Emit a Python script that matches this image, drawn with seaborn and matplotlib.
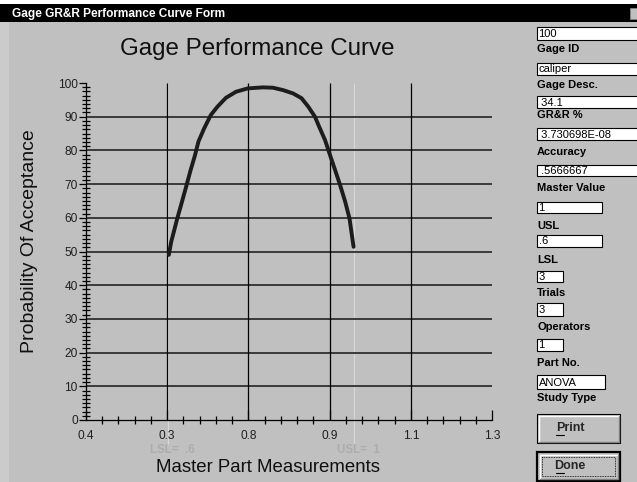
import numpy as np
import matplotlib
matplotlib.use('Agg')
import matplotlib.pyplot as plt
from matplotlib.patches import Rectangle
from matplotlib.ticker import FixedLocator, MultipleLocator
import seaborn as sns

# curve
master_part = [0.5836, 0.5889, 0.5948, 0.6023, 0.6097, 0.6209, 0.6320, 0.6417,
               0.6492, 0.6618, 0.6767, 0.6916, 0.7102, 0.7325, 0.7586, 0.7921,
               0.8144, 0.8367, 0.8591, 0.8777, 0.8926, 0.9075, 0.9186, 0.9298,
               0.9410, 0.9521, 0.9633, 0.9745, 0.9841, 0.9931]
prob_accept = [49.0, 52.9, 55.9, 59.8, 63.3, 68.7, 74.2, 78.6,
               82.6, 86.5, 90.5, 93.0, 95.6, 97.4, 98.4, 98.7,
               98.6, 97.9, 96.9, 95.5, 93.0, 90.0, 86.5, 83.1,
               78.6, 74.2, 69.7, 64.8, 59.8, 51.4]

x_ticks = [0.4, 0.58, 0.76, 0.94, 1.12, 1.3]
x_tick_labels = ['0.4', '0.3', '0.8', '0.9', '1.1', '1.3']
y_ticks = [0, 10, 20, 30, 40, 50, 60, 70, 80, 90, 100]

spec_x = [0.582, 0.994]
spec_labels = ['LSL=  .6', 'USL=  1']

field_values = ['100', 'caliper', ' 34.1', ' 3.730698E-08', ' .5666667',
                '1', '.6', '3', '3', '1', 'ANOVA']
field_labels = ['Gage ID', 'Gage Desc.', 'GR&R %', 'Accuracy', 'Master Value',
                'USL', 'LSL', 'Trials', 'Operators', 'Part No.', 'Study Type']

# form layout (pixels)
box_top = [27, 63, 96, 128, 165, 202, 235, 271, 303, 339, 375]
box_h = [13, 12, 12, 12, 11, 11, 12, 11, 13, 12, 14]
box_w = [105, 105, 105, 105, 105, 65, 65, 26, 26, 26, 68]
label_y = [49, 85, 115, 152, 188, 226, 260, 293, 327, 363, 398]

sns.set_style('white')
plt.rcParams['font.family'] = ['Liberation Sans', 'DejaVu Sans']

W, H = 637, 482
BG = '#c0c0c0'
fig = plt.figure(figsize=(W / 100, H / 100), dpi=100, facecolor=BG)

# whole-window overlay in pixel coordinates
ui = fig.add_axes([0, 0, 1, 1])
ui.set_xlim(0, W)
ui.set_ylim(H, 0)
ui.axis('off')
ui.add_patch(Rectangle((0, 0), 9, H, color='#cbcbcb', lw=0))
ui.add_patch(Rectangle((0, 0), W, 4, color='white', lw=0))
ui.add_patch(Rectangle((0, 4), W, 18, color='black', lw=0))
ui.text(12, 13.5, 'Gage GR&R Performance Curve Form', color='white',
        fontsize=8.6, fontweight='bold', va='center')
ui.add_patch(Rectangle((630, 8), 9, 11, facecolor=BG, edgecolor='#808080', lw=0.7))

for val, lab, top, h, w, ly in zip(field_values, field_labels, box_top, box_h, box_w, label_y):
    ui.add_patch(Rectangle((537, top), w, h, facecolor='white', edgecolor='black', lw=0.8))
    ui.text(538.5, top + h / 2 + 0.5, val, fontsize=8, va='center', color='black')
    ui.text(537, ly, lab, fontsize=8, fontweight='bold', va='center', color='black')


def button(top, text, focused):
    x0, x1, y1 = 537, 620, top + 29
    ui.add_patch(Rectangle((x0, top), x1 - x0, y1 - top, facecolor=BG,
                           edgecolor='black', lw=1.6 if focused else 0.8))
    k = 2.5 if focused else 1.5
    ui.plot([x0 + k, x1 - k], [top + k, top + k], color='white', lw=1)
    ui.plot([x0 + k, x0 + k], [top + k, y1 - k], color='white', lw=1)
    ui.plot([x0 + k, x1 - k], [y1 - k, y1 - k], color='#808080', lw=1)
    ui.plot([x1 - k, x1 - k], [top + k, y1 - k], color='#808080', lw=1)
    if focused:
        ui.add_patch(Rectangle((x0 + 5, top + 5), x1 - x0 - 10, y1 - top - 10,
                               fill=False, edgecolor='black', lw=0.6, ls=(0, (1, 1))))
    ui.text(570, top + 14, text, fontsize=9, fontweight='bold', ha='center', va='center')
    ui.plot([556, 563.5], [top + 20.5, top + 20.5], color='black', lw=0.8)


button(414, 'Print', False)
button(452, 'Done', True)

# chart axes
ax = fig.add_axes([86 / W, 1 - 420 / H, (492 - 86) / W, (420 - 83) / H])
ax.patch.set_alpha(0)
ax.set_xlim(0.4, 1.3)
ax.set_ylim(0, 100)

ax.hlines(y_ticks[1:-1], x_ticks[0], x_ticks[-1], color='#3a3a3a', lw=1.4, zorder=1)
ax.vlines(x_ticks[1:-1], 0, 100, color='black', lw=0.9, zorder=1)
ax.vlines(spec_x, -7, 100, color='#d8d8d8', lw=0.8, clip_on=False, zorder=0.5)
for sx, sl in zip(spec_x, spec_labels):
    ax.text(sx + 0.01, -9, sl, color='#acacac', fontsize=8.3, fontweight='bold',
            ha='center', va='center', clip_on=False)

sns.lineplot(x=master_part, y=prob_accept, ax=ax, color='#1c1c1c', lw=2.8,
             estimator=None, sort=False, zorder=3)

for s in ['top', 'right']:
    ax.spines[s].set_visible(False)
for s in ['left', 'bottom']:
    ax.spines[s].set_color('black')
    ax.spines[s].set_linewidth(0.9)

ax.set_xticks(x_ticks)
ax.set_xticklabels(x_tick_labels)
ax.xaxis.set_minor_locator(FixedLocator(np.linspace(x_ticks[0], x_ticks[-1], 26)))
ax.set_yticks(y_ticks)
ax.yaxis.set_minor_locator(MultipleLocator(1.25))

ax.tick_params(which='both', bottom=True, left=True, top=False, right=False)
ax.tick_params(axis='x', which='major', direction='in', length=7, width=0.9,
               pad=7, labelsize=8.6, labelcolor='#202020', color='black')
ax.tick_params(axis='x', which='minor', direction='inout', length=6, width=0.9, color='black')
ax.tick_params(axis='y', which='major', direction='out', length=5, width=0.9,
               pad=1, labelsize=8.6, labelcolor='#202020', color='black')
ax.tick_params(axis='y', which='minor', direction='inout', length=5.5, width=0.9, color='black')

ax.set_xlabel('')
ax.set_ylabel('')
fig.text(257.5 / W, 1 - 49 / H, 'Gage Performance Curve', fontsize=17.4,
         ha='center', va='center', color='#101010')
fig.text(267.5 / W, 1 - 467 / H, 'Master Part Measurements', fontsize=13.4,
         ha='center', va='center', color='#101010')
fig.text(30 / W, 1 - 241 / H, 'Probability Of Acceptance', fontsize=14,
         ha='center', va='center', rotation=90, color='#101010')

fig.savefig('out.png', dpi=100, facecolor=BG)
